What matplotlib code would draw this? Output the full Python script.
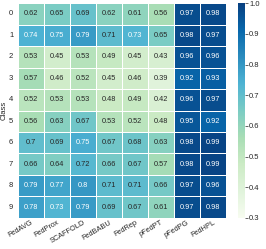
import numpy as np
import matplotlib.pyplot as plt
import seaborn as sns

methods = ["FedAVG", "FedProx", "SCAFFOLD", "FedBABU", "FedRep", "pFedPT", "pFedPG", "FedHPL"]
classes = [str(i) for i in range(10)]
acc = np.array([
    [0.62, 0.65, 0.69, 0.62, 0.61, 0.56, 0.97, 0.98],
    [0.74, 0.75, 0.79, 0.71, 0.73, 0.65, 0.98, 0.97],
    [0.53, 0.45, 0.53, 0.49, 0.45, 0.43, 0.96, 0.96],
    [0.57, 0.46, 0.52, 0.45, 0.46, 0.39, 0.92, 0.93],
    [0.52, 0.53, 0.53, 0.48, 0.49, 0.42, 0.96, 0.97],
    [0.56, 0.63, 0.67, 0.53, 0.52, 0.48, 0.95, 0.92],
    [0.70, 0.69, 0.75, 0.67, 0.68, 0.63, 0.98, 0.99],
    [0.66, 0.64, 0.72, 0.66, 0.67, 0.57, 0.98, 0.99],
    [0.79, 0.77, 0.80, 0.71, 0.71, 0.66, 0.97, 0.96],
    [0.78, 0.73, 0.79, 0.69, 0.67, 0.61, 0.97, 0.98],
])

sns.set_theme(style="white")
plt.rcParams['font.family'] = ['Liberation Sans', 'DejaVu Sans']

fig = plt.figure(figsize=(2.66, 2.49), dpi=100)
ax = fig.add_axes([0.068, 0.125, 0.782, 0.862])
cax = fig.add_axes([0.893, 0.125, 0.028, 0.862])

sns.heatmap(acc, ax=ax, cbar_ax=cax, cmap="GnBu", vmin=0.3, vmax=1.0,
            annot=True, fmt=".2g", annot_kws={"size": 5.3},
            linewidths=0.4, linecolor="white",
            xticklabels=methods, yticklabels=classes)

ax.set_ylabel("Class", fontsize=5.5)
ax.yaxis.set_label_coords(-0.052, 0.5)
ax.tick_params(axis="x", labelsize=5.3, rotation=30, pad=1, length=0)
ax.tick_params(axis="y", labelsize=5.5, rotation=0, pad=3.5, length=0)
for lbl in ax.get_xticklabels():
    lbl.set_ha("right")
    lbl.set_rotation_mode("anchor")

cax.tick_params(labelsize=5.5, length=2, width=0.5, pad=1)
cax.set_yticks([0.3, 0.4, 0.5, 0.6, 0.7, 0.8, 0.9, 1.0])

fig.savefig("out.png", dpi=100)
